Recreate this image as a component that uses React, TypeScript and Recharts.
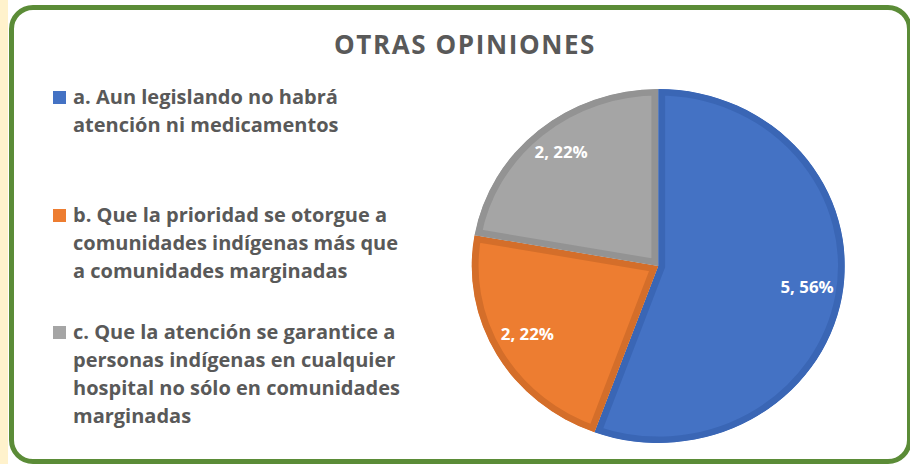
import React from "react";
import { PieChart, Pie, Cell, Sector } from "recharts";

const title = "OTRAS OPINIONES";
const categories = [
  "a. Aun legislando no habrá\natención ni medicamentos",
  "b. Que la prioridad se otorgue a\ncomunidades indígenas más que\na comunidades marginadas",
  "c. Que la atención se garantice a\npersonas indígenas en cualquier\nhospital no sólo en comunidades\nmarginadas",
];
const counts = [5, 2, 2];
const colors = ["#4472C4", "#ED7D31", "#A5A5A5"];
const borderColors = ["#3A66B5", "#D46E2A", "#939393"];

const data = categories.map((name, i) => ({ name, value: counts[i] }));

const RAD = Math.PI / 180;
const FONT = "'Open Sans', 'Noto Sans', sans-serif";
const TEXT = "#595959";

const InsetSector = (props: any) => {
  const { cx, cy, innerRadius, outerRadius, startAngle, endAngle, fill, stroke } = props;
  const id = `clip-${Math.round(startAngle * 100)}-${Math.round(endAngle * 100)}`;
  return (
    <g>
      <defs>
        <clipPath id={id}>
          <Sector cx={cx} cy={cy} innerRadius={innerRadius} outerRadius={outerRadius} startAngle={startAngle} endAngle={endAngle} />
        </clipPath>
      </defs>
      <Sector
        cx={cx}
        cy={cy}
        innerRadius={innerRadius}
        outerRadius={outerRadius}
        startAngle={startAngle}
        endAngle={endAngle}
        fill={fill}
        stroke={stroke}
        strokeWidth={13}
        clipPath={`url(#${id})`}
      />
    </g>
  );
};

const renderLabel = (p: any) => {
  const { cx, cy, midAngle, outerRadius, percent, value } = p;
  const r = outerRadius * 0.81;
  const x = cx + r * Math.cos(-midAngle * RAD);
  const y = cy + r * Math.sin(-midAngle * RAD) - 4;
  return (
    <text x={x} y={y} fill="#FFFFFF" textAnchor="middle" dominantBaseline="central" fontFamily={FONT} fontWeight={700} fontSize={16}>
      {`${value}, ${Math.round(percent * 100)}%`}
    </text>
  );
};

export default function App() {
  return (
    <div style={{ position: "absolute", left: 0, top: 0, width: 910, height: 464, background: "#FFFFFF", overflow: "hidden", fontFamily: FONT }}>
      <div style={{ position: "absolute", left: 0, top: 0, width: 8, height: 464, background: "#FFF2CC" }} />
      <div
        style={{
          position: "absolute",
          left: 9,
          top: 5,
          width: 903,
          height: 459,
          boxSizing: "border-box",
          border: "5px solid #5B8C37",
          borderRadius: 24,
        }}
      />
      <div style={{ position: "absolute", left: 0, width: 930, top: 26, textAlign: "center", color: TEXT, fontWeight: 700, fontSize: 26, letterSpacing: 1.6, lineHeight: "36px" }}>
        {title}
      </div>
      <div style={{ position: "absolute", left: 453, top: 61, width: 400, height: 400, transform: "scaleX(1.054)", transformOrigin: "200px 200px" }}>
        <PieChart width={400} height={400}>
          <Pie
            data={data}
            dataKey="value"
            nameKey="name"
            cx={200}
            cy={200}
            outerRadius={177}
            startAngle={90}
            endAngle={-270}
            isAnimationActive={false}
            labelLine={false}
            label={renderLabel}
            shape={InsetSector}
            strokeWidth={0}
          >
            {data.map((d, i) => (
              <Cell key={d.name} fill={colors[i]} stroke={borderColors[i]} />
            ))}
          </Pie>
        </PieChart>
      </div>
      {categories.map((name, i) => (
        <div key={name} style={{ position: "absolute", left: 53, top: 83 + i * 117.5, display: "flex", alignItems: "flex-start" }}>
          <div style={{ width: 13, height: 13, background: colors[i], marginTop: 8, marginRight: 7, flexShrink: 0 }} />
          <div style={{ whiteSpace: "pre-line", color: TEXT, fontWeight: 700, fontSize: 20, lineHeight: "28px" }}>{name}</div>
        </div>
      ))}
    </div>
  );
}
